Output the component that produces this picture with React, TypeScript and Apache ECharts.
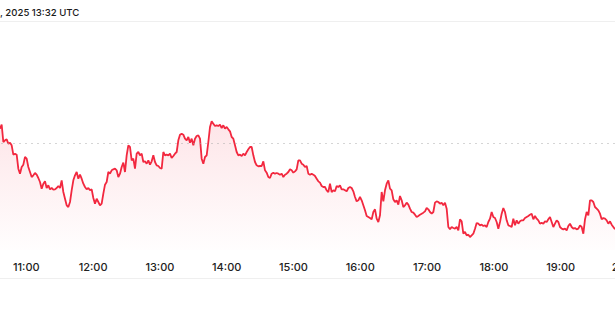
import React, { useEffect, useRef } from "react";
import * as echarts from "echarts";

// Title fragment visible in the crop
const TITLE = ", 2025 13:32 UTC";

// Hour tick labels (minutes since midnight) shown on the time axis
const AXIS_MIN = 600; // 10:00
const AXIS_MAX = 1260; // 21:00
const AXIS_STEP = 60;

// Sampling of the series: first sample time (minutes) and spacing (minutes)
const START_MIN = 636.38;
const STEP_MIN = 1.497;

// Reference (previous close) level drawn as a dotted line
const REFERENCE_LEVEL = 305;

// Price values, first half of the session
const valuesA = [
  350, 362, 310, 315, 318, 305, 308, 300, 272, 275, 272, 230, 215, 235, 242, 265, 260, 235, 220, 205,
  210, 217, 212, 202, 190, 170, 185, 192, 172, 180, 168, 172, 167, 168, 172, 178, 172, 195, 160, 140,
  120, 115, 130, 165, 195, 210, 220, 200, 212, 200, 185, 175, 168, 172, 165, 168, 142, 125, 140, 130,
  120, 125, 155, 182, 190, 220, 215, 225, 228, 230, 225, 205, 215, 235, 248, 220, 270, 300, 295, 255,
  260, 230, 275, 280, 270, 275, 250, 252, 245, 255, 242, 252, 270, 250, 240, 238, 232, 230, 280, 270,
  272, 270, 275, 262, 268, 275, 280, 315, 332, 335, 332, 320, 315, 325, 308, 320, 300, 320, 328, 330,
  320, 260, 245, 265, 270, 310, 355, 372, 365, 358, 360, 358, 362, 352, 360, 350, 355, 348, 342, 325,
  320, 300, 280, 270, 272, 268, 275, 270, 280, 288, 295, 295, 270, 250, 240, 237, 238, 238, 252, 225,
  218, 205, 202, 215, 218, 215, 217, 215, 212, 215, 205, 212, 215, 220, 228, 225, 218, 222, 228, 255,
  255, 245, 242,
];

// Price values, second half of the session
const valuesB = [
  235, 238, 215, 212, 215, 212, 208, 200, 192, 188, 178, 175, 175, 165, 160, 185, 160, 165, 162, 178,
  175, 180, 168, 168, 165, 162, 172, 175, 172, 162, 145, 132, 135, 145, 135, 120, 105, 88, 85, 82,
  78, 100, 108, 80, 70, 90, 160, 132, 165, 185, 195, 170, 165, 138, 130, 135, 122, 148, 135, 115,
  120, 128, 122, 110, 100, 98, 92, 85, 88, 92, 95, 98, 102, 112, 108, 100, 95, 100, 128, 132,
  130, 125, 128, 120, 128, 110, 55, 48, 55, 52, 50, 55, 45, 78, 72, 35, 40, 30, 32, 25,
  30, 35, 50, 67, 65, 60, 62, 58, 60, 55, 70, 80, 100, 85, 82, 70, 50, 70, 95, 112,
  100, 75, 60, 58, 55, 80, 60, 75, 65, 72, 75, 75, 82, 85, 88, 92, 95, 78, 88, 80,
  75, 65, 68, 65, 72, 70, 78, 85, 70, 55, 65, 75, 70, 55, 50, 48, 50, 45, 58, 65,
  55, 50, 52, 48, 50, 60, 55, 35, 78, 100, 90, 135, 135, 130, 115, 110, 105, 95, 78, 82,
  80, 75, 65, 72, 62, 55, 48,
];

const LINE_COLOR = "#f2283f";
const FONT = "Inter, Roboto, 'Liberation Sans', Arial, sans-serif";

export default function App() {
  const ref = useRef<HTMLDivElement>(null);

  useEffect(() => {
    if (!ref.current) return;
    const chart = echarts.init(ref.current, undefined, { renderer: "svg" });
    const values = [...valuesA, ...valuesB];
    const data = values.map((v, i) => [START_MIN + i * STEP_MIN, v]);

    chart.setOption({
      animation: false,
      backgroundColor: "#ffffff",
      title: {
        text: TITLE,
        left: 0,
        top: 7.5,
        padding: 0,
        textStyle: {
          fontSize: 9.6,
          fontWeight: 500,
          color: "#1a1a1a",
          fontFamily: FONT,
        },
      },
      graphic: [
        {
          type: "line",
          shape: { x1: 0, y1: 21.5, x2: 615, y2: 21.5 },
          style: { stroke: "#efefef", lineWidth: 1 },
          silent: true,
        },
        {
          type: "line",
          shape: { x1: 0, y1: 278.5, x2: 615, y2: 278.5 },
          style: { stroke: "#efefef", lineWidth: 1 },
          silent: true,
        },
      ],
      grid: {
        left: -40.5,
        right: -79.3,
        top: 30,
        bottom: 77,
        containLabel: false,
        outerBoundsMode: "none",
      },
      xAxis: {
        type: "value",
        min: AXIS_MIN,
        max: AXIS_MAX,
        interval: AXIS_STEP,
        axisLine: { show: false },
        axisTick: { show: false },
        splitLine: { show: false },
        axisLabel: {
          margin: 11,
          fontSize: 11,
          fontWeight: 500,
          color: "#222222",
          fontFamily: FONT,
          hideOverlap: false,
          showMinLabel: false,
          showMaxLabel: false,
          formatter: (v: number) => `${Math.floor(v / 60)}:00`,
        },
      },
      yAxis: {
        type: "value",
        min: -14,
        max: 646,
        show: false,
        splitLine: { show: false },
      },
      series: [
        {
          type: "line",
          data,
          showSymbol: false,
          symbol: "none",
          clip: false,
          lineStyle: { color: LINE_COLOR, width: 1.8 },
          itemStyle: { color: LINE_COLOR },
          areaStyle: {
            origin: "start",
            color: new echarts.graphic.LinearGradient(0, 0, 0, 1, [
              { offset: 0, color: "rgba(242,40,63,0.17)" },
              { offset: 1, color: "rgba(242,40,63,0.01)" },
            ]),
          },
          markLine: {
            silent: true,
            symbol: "none",
            label: { show: false },
            lineStyle: { color: "#aaaaaa", type: [1, 5], width: 1 },
            data: [{ yAxis: REFERENCE_LEVEL }],
          },
        },
      ],
    });

    return () => chart.dispose();
  }, []);

  return (
    <div
      ref={ref}
      style={{ position: "absolute", left: 0, top: 0, width: 615, height: 327 }}
    />
  );
}
